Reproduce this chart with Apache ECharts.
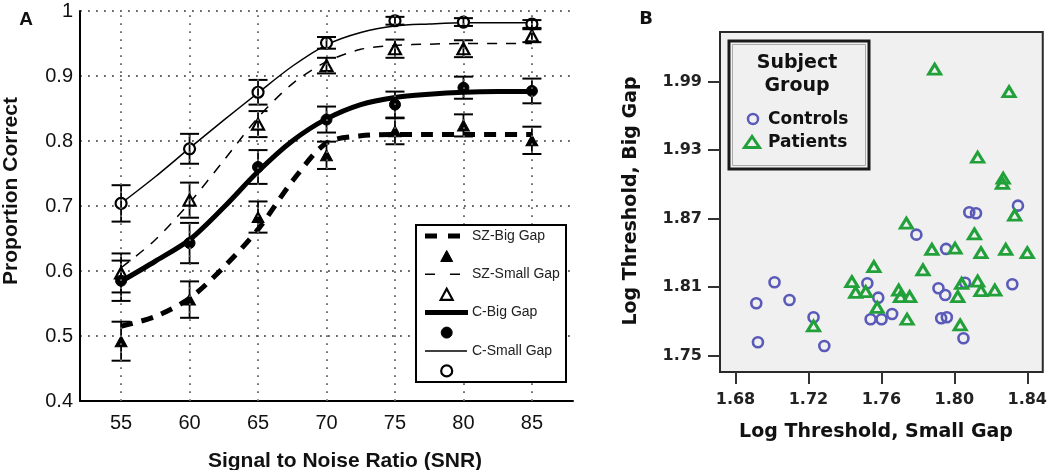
<!DOCTYPE html>
<html><head><meta charset="utf-8">
<script src="https://cdn.jsdelivr.net/npm/echarts@6/dist/echarts.min.js"></script>
<style>html,body{margin:0;padding:0;background:#fff}#c{width:1050px;height:470px}</style>
</head><body><div id="c"></div>
<script>
// ---------- Panel A data ----------
const SNR = [55, 60, 65, 70, 75, 80, 85];
const SNR_TICKS = [55, 60, 65, 70, 75, 80, 85];
const SERIES_NAMES = ['SZ-Big Gap', 'SZ-Small Gap', 'C-Big Gap', 'C-Small Gap'];
const szBig = [0.492, 0.556, 0.683, 0.778, 0.815, 0.824, 0.801];
const szBigErr = [0.030, 0.028, 0.024, 0.021, 0.020, 0.017, 0.021];
const szSmall = [0.597, 0.709, 0.826, 0.916, 0.942, 0.942, 0.962];
const szSmallErr = [0.030, 0.027, 0.020, 0.012, 0.014, 0.013, 0.010];
const cBig = [0.585, 0.643, 0.760, 0.833, 0.856, 0.882, 0.877];
const cBigErr = [0.031, 0.031, 0.026, 0.020, 0.020, 0.017, 0.019];
const cSmall = [0.704, 0.788, 0.875, 0.951, 0.985, 0.983, 0.980];
const cSmallErr = [0.028, 0.023, 0.019, 0.009, 0.006, 0.006, 0.006];
// fitted curves
const FIT_X = [55, 57.5, 60, 62.5, 65, 67.5, 70, 72.5, 75, 77.5, 80, 82.5, 85];
const fitSzBig = [0.515, 0.530, 0.558, 0.606, 0.664, 0.738, 0.797, 0.808, 0.810, 0.810, 0.810, 0.810, 0.810];
const fitSzSmall = [0.605, 0.648, 0.705, 0.770, 0.836, 0.888, 0.922, 0.941, 0.947, 0.949, 0.950, 0.950, 0.950];
const fitCBig = [0.584, 0.615, 0.648, 0.698, 0.753, 0.800, 0.834, 0.856, 0.867, 0.872, 0.875, 0.876, 0.876];
const fitCSmall = [0.704, 0.745, 0.789, 0.832, 0.874, 0.915, 0.948, 0.967, 0.977, 0.980, 0.982, 0.982, 0.982];

// ---------- Panel B data ----------
const B_X_TICKS = [1.68, 1.72, 1.76, 1.80, 1.84];
const B_Y_TICKS = [1.75, 1.81, 1.87, 1.93, 1.99];
const GROUP_NAMES = ['Controls', 'Patients'];
const controlsX = [1.6914, 1.6923, 1.7014, 1.7096, 1.7228, 1.7287, 1.7523, 1.7583, 1.7541, 1.7601, 1.7659, 1.7792, 1.7913, 1.7950, 1.7928, 1.7959, 1.7955, 1.8050, 1.8059, 1.8318, 1.8082, 1.8119, 1.8349];
const controlsY = [1.7959, 1.7617, 1.8143, 1.7988, 1.7836, 1.7585, 1.8134, 1.8008, 1.7819, 1.7819, 1.7865, 1.8560, 1.8090, 1.8032, 1.7828, 1.7836, 1.8435, 1.7652, 1.8139, 1.8125, 1.8756, 1.8747, 1.8814];
const patientsX = [1.7228, 1.7438, 1.7459, 1.7514, 1.7559, 1.7577, 1.7695, 1.7705, 1.7755, 1.7741, 1.7737, 1.7828, 1.7877, 1.8004, 1.8019, 1.8040, 1.8032, 1.8110, 1.8146, 1.8128, 1.8146, 1.8222, 1.8282, 1.8400, 1.7892, 1.8300, 1.8128, 1.8268, 1.8264, 1.8331];
const patientsY = [1.7760, 1.8148, 1.8055, 1.8061, 1.8280, 1.7924, 1.8075, 1.8017, 1.8017, 1.7819, 1.8660, 1.8251, 1.8432, 1.8441, 1.8017, 1.8134, 1.7769, 1.8566, 1.8402, 1.8154, 1.8069, 1.8075, 1.8432, 1.8402, 2.0009, 1.9812, 1.9238, 1.9054, 1.9010, 1.8732];

// ---------- styles ----------
const FONT_A = '"Liberation Sans", Arial, Helvetica, sans-serif';
const FONT_B = '"DejaVu Sans", sans-serif';
const DOT = {type: [1.8, 6.2], color: '#666', width: 1.8};
const BLUE = '#5a5ab8', GREEN = '#22a03a';

const A_DEFS = [
  {vals: szBig, err: szBigErr, fit: fitSzBig, line: {width: 5, type: [12, 9]}, leg: {width: 5, type: [12, 11], x2: 460}, symbol: 'triangle', filled: true},
  {vals: szSmall, err: szSmallErr, fit: fitSzSmall, line: {width: 1.5, type: [10, 9]}, leg: {width: 1.5, type: [10, 15], x2: 460}, symbol: 'triangle', filled: false},
  {vals: cBig, err: cBigErr, fit: fitCBig, line: {width: 5, type: 'solid'}, leg: {width: 5, type: 'solid', x2: 468}, symbol: 'circle', filled: true},
  {vals: cSmall, err: cSmallErr, fit: fitCSmall, line: {width: 1.5, type: 'solid'}, leg: {width: 1.5, type: 'solid', x2: 467}, symbol: 'circle', filled: false}
];

function errRender(params, api) {
  const x = api.value(0);
  const lo = api.coord([x, api.value(1)]);
  const hi = api.coord([x, api.value(2)]);
  const hw = 9.5;
  const st = {stroke: '#000', lineWidth: 2};
  return {type: 'group', children: [
    {type: 'line', shape: {x1: lo[0], y1: lo[1], x2: hi[0], y2: hi[1]}, style: {stroke: '#000', lineWidth: 1.8}},
    {type: 'line', shape: {x1: lo[0] - hw, y1: lo[1], x2: lo[0] + hw, y2: lo[1]}, style: st},
    {type: 'line', shape: {x1: hi[0] - hw, y1: hi[1], x2: hi[0] + hw, y2: hi[1]}, style: st}
  ]};
}

const series = [];
// vertical dotted grid lines
series.push({type: 'line', xAxisIndex: 0, yAxisIndex: 0, data: [], z: 1, silent: true,
  markLine: {silent: true, symbol: ['none', 'none'], label: {show: false}, lineStyle: DOT, emphasis: {disabled: true},
    data: SNR_TICKS.map(v => ({xAxis: v}))}});

A_DEFS.forEach((d, i) => {
  series.push({name: SERIES_NAMES[i], type: 'line', xAxisIndex: 0, yAxisIndex: 0, z: 2,
    data: FIT_X.map((x, k) => [x, d.fit[k]]), showSymbol: false, smooth: 0.3,
    lineStyle: {color: '#000', width: d.line.width, type: d.line.type, cap: 'butt', join: 'round'}, silent: true});
});
A_DEFS.forEach((d, i) => {
  series.push({name: SERIES_NAMES[i] + ' pts', type: 'scatter', xAxisIndex: 0, yAxisIndex: 0, z: 3,
    data: SNR.map((x, k) => [x, d.vals[k]]), symbol: d.symbol,
    symbolSize: d.symbol === 'triangle' ? [12, 11] : 11,
    itemStyle: d.filled ? {color: '#000', borderColor: '#000', borderWidth: 1, opacity: 1} : {color: '#fff', borderColor: '#000', borderWidth: 2.2, opacity: 1}});
});
A_DEFS.forEach((d, i) => {
  series.push({name: SERIES_NAMES[i] + ' err', type: 'custom', xAxisIndex: 0, yAxisIndex: 0, z: 4,
    data: SNR.map((x, k) => [x, d.vals[k] - d.err[k], d.vals[k] + d.err[k]]),
    encode: {x: 0, y: [1, 2]}, renderItem: errRender, silent: true});
});
// Panel B scatter
series.push({name: GROUP_NAMES[0], type: 'scatter', xAxisIndex: 1, yAxisIndex: 1, z: 3,
  data: controlsX.map((x, k) => [x, controlsY[k]]), symbol: 'circle', symbolSize: 10,
  itemStyle: {color: 'rgba(0,0,0,0)', borderColor: BLUE, borderWidth: 2.6, opacity: 1}});
series.push({name: GROUP_NAMES[1], type: 'scatter', xAxisIndex: 1, yAxisIndex: 1, z: 4,
  data: patientsX.map((x, k) => [x, patientsY[k]]), symbol: 'triangle', symbolSize: [12, 10],
  itemStyle: {color: 'rgba(0,0,0,0)', borderColor: GREEN, borderWidth: 3, opacity: 1}});

// ---------- graphic: texts & legends ----------
const G = [];
const txt = (x, y, text, font, opts = {}) => G.push(Object.assign({type: 'text', x, y, z: 100,
  style: Object.assign({text, font, fill: '#111', textAlign: 'center', textVerticalAlign: 'middle'}, opts.style || {})}, opts.el || {}));

txt(26, 20, 'A', 'bold 19px ' + FONT_A);
txt(11, 191, 'Proportion Correct', 'bold 21px ' + FONT_A, {el: {rotation: Math.PI / 2}});
txt(345, 461, 'Signal to Noise Ratio (SNR)', 'bold 21px ' + FONT_A);
txt(646, 19, 'B', 'bold 18px ' + FONT_B);
txt(876, 432, 'Log Threshold, Small Gap', 'bold 19px ' + FONT_B);
txt(631, 201, 'Log Threshold, Big Gap', 'bold 19px ' + FONT_B, {el: {rotation: Math.PI / 2}});

// legend A
G.push({type: 'rect', z: 100, shape: {x: 416, y: 225, width: 150, height: 157}, style: {fill: '#fff', stroke: '#000', lineWidth: 2}});
A_DEFS.forEach((d, i) => {
  const ly = 236 + i * 38.3, my = ly + 20, mx = 446.7;
  G.push({type: 'line', z: 101, shape: {x1: 425, y1: ly, x2: d.leg.x2, y2: ly},
    style: {stroke: '#000', lineWidth: d.leg.width, lineDash: d.leg.type === 'solid' ? null : d.leg.type}});
  if (d.symbol === 'triangle') {
    G.push({type: 'polygon', z: 101, shape: {points: [[mx, my - 5.5], [mx - 6, my + 5.5], [mx + 6, my + 5.5]]},
      style: d.filled ? {fill: '#000', stroke: '#000', lineWidth: 1} : {fill: '#fff', stroke: '#000', lineWidth: 2.2}});
  } else {
    G.push({type: 'circle', z: 101, shape: {cx: mx, cy: my, r: 5.5},
      style: d.filled ? {fill: '#000', stroke: '#000', lineWidth: 1} : {fill: '#fff', stroke: '#000', lineWidth: 2.2}});
  }
  txt(472, ly, SERIES_NAMES[i], '14px ' + FONT_A, {style: {textAlign: 'left', fill: '#222'}});
});

// legend B
G.push({type: 'rect', z: 100, shape: {x: 729, y: 41, width: 140, height: 128}, style: {fill: '#f0f0f0', stroke: '#1a1a1a', lineWidth: 3}});
G.push({type: 'rect', z: 100, shape: {x: 732.5, y: 44.5, width: 133, height: 121}, style: {fill: 'none', stroke: '#999', lineWidth: 0.8}});
txt(797, 63, 'Subject', 'bold 19px ' + FONT_B);
txt(797, 86, 'Group', 'bold 19px ' + FONT_B);
G.push({type: 'circle', z: 101, shape: {cx: 753, cy: 119, r: 5}, style: {fill: 'none', stroke: BLUE, lineWidth: 2.5}});
G.push({type: 'polygon', z: 101, shape: {points: [[752, 136.5], [744.5, 147.5], [759.5, 147.5]]}, style: {fill: 'none', stroke: GREEN, lineWidth: 3}});
txt(768, 120, GROUP_NAMES[0], 'bold 17px ' + FONT_B, {style: {textAlign: 'left'}});
txt(768, 143, GROUP_NAMES[1], 'bold 17px ' + FONT_B, {style: {textAlign: 'left'}});

const option = {
  animation: false,
  backgroundColor: '#fff',
  textStyle: {fontFamily: FONT_A},
  grid: [
    {left: 80, top: 11, width: 493, height: 390, containLabel: false},
    {left: 720, top: 32, width: 325, height: 340, containLabel: false, show: true, backgroundColor: '#f0f0f0', borderColor: '#2a2a2a', borderWidth: 2}
  ],
  xAxis: [
    {type: 'value', gridIndex: 0, min: 52, max: 88,
      axisLine: {show: true, lineStyle: {color: '#000', width: 2}}, axisTick: {show: false}, splitLine: {show: false},
      axisLabel: {customValues: SNR_TICKS, color: '#111', fontSize: 20, fontFamily: FONT_A, margin: 12}},
    {type: 'value', gridIndex: 1, min: 1.6715, max: 1.8485,
      axisLine: {show: false}, splitLine: {show: false},
      axisTick: {show: true, customValues: B_X_TICKS, length: 12, lineStyle: {color: '#333', width: 2}},
      axisLabel: {customValues: B_X_TICKS, formatter: v => v.toFixed(2), color: '#222', fontSize: 16, fontWeight: 'bold', fontFamily: FONT_B, margin: 20}}
  ],
  yAxis: [
    {type: 'value', gridIndex: 0, min: 0.4, max: 1, interval: 0.1,
      axisLine: {show: true, lineStyle: {color: '#000', width: 2}}, axisTick: {show: false},
      splitLine: {show: true, lineStyle: DOT},
      axisLabel: {color: '#111', fontSize: 20, fontFamily: FONT_A, margin: 7, formatter: v => (Math.abs(v - 1) < 1e-9 ? '1' : v.toFixed(1))}},
    {type: 'value', gridIndex: 1, min: 1.7357, max: 2.0335,
      axisLine: {show: false}, splitLine: {show: false},
      axisTick: {show: true, customValues: B_Y_TICKS, length: 12, lineStyle: {color: '#333', width: 2}},
      axisLabel: {customValues: B_Y_TICKS, formatter: v => v.toFixed(2), color: '#222', fontSize: 16, fontWeight: 'bold', fontFamily: FONT_B, margin: 18}}
  ],
  series: series,
  graphic: {elements: G}
};
const chart = echarts.init(document.getElementById('c'));
chart.setOption(option);
</script>
</body></html>
